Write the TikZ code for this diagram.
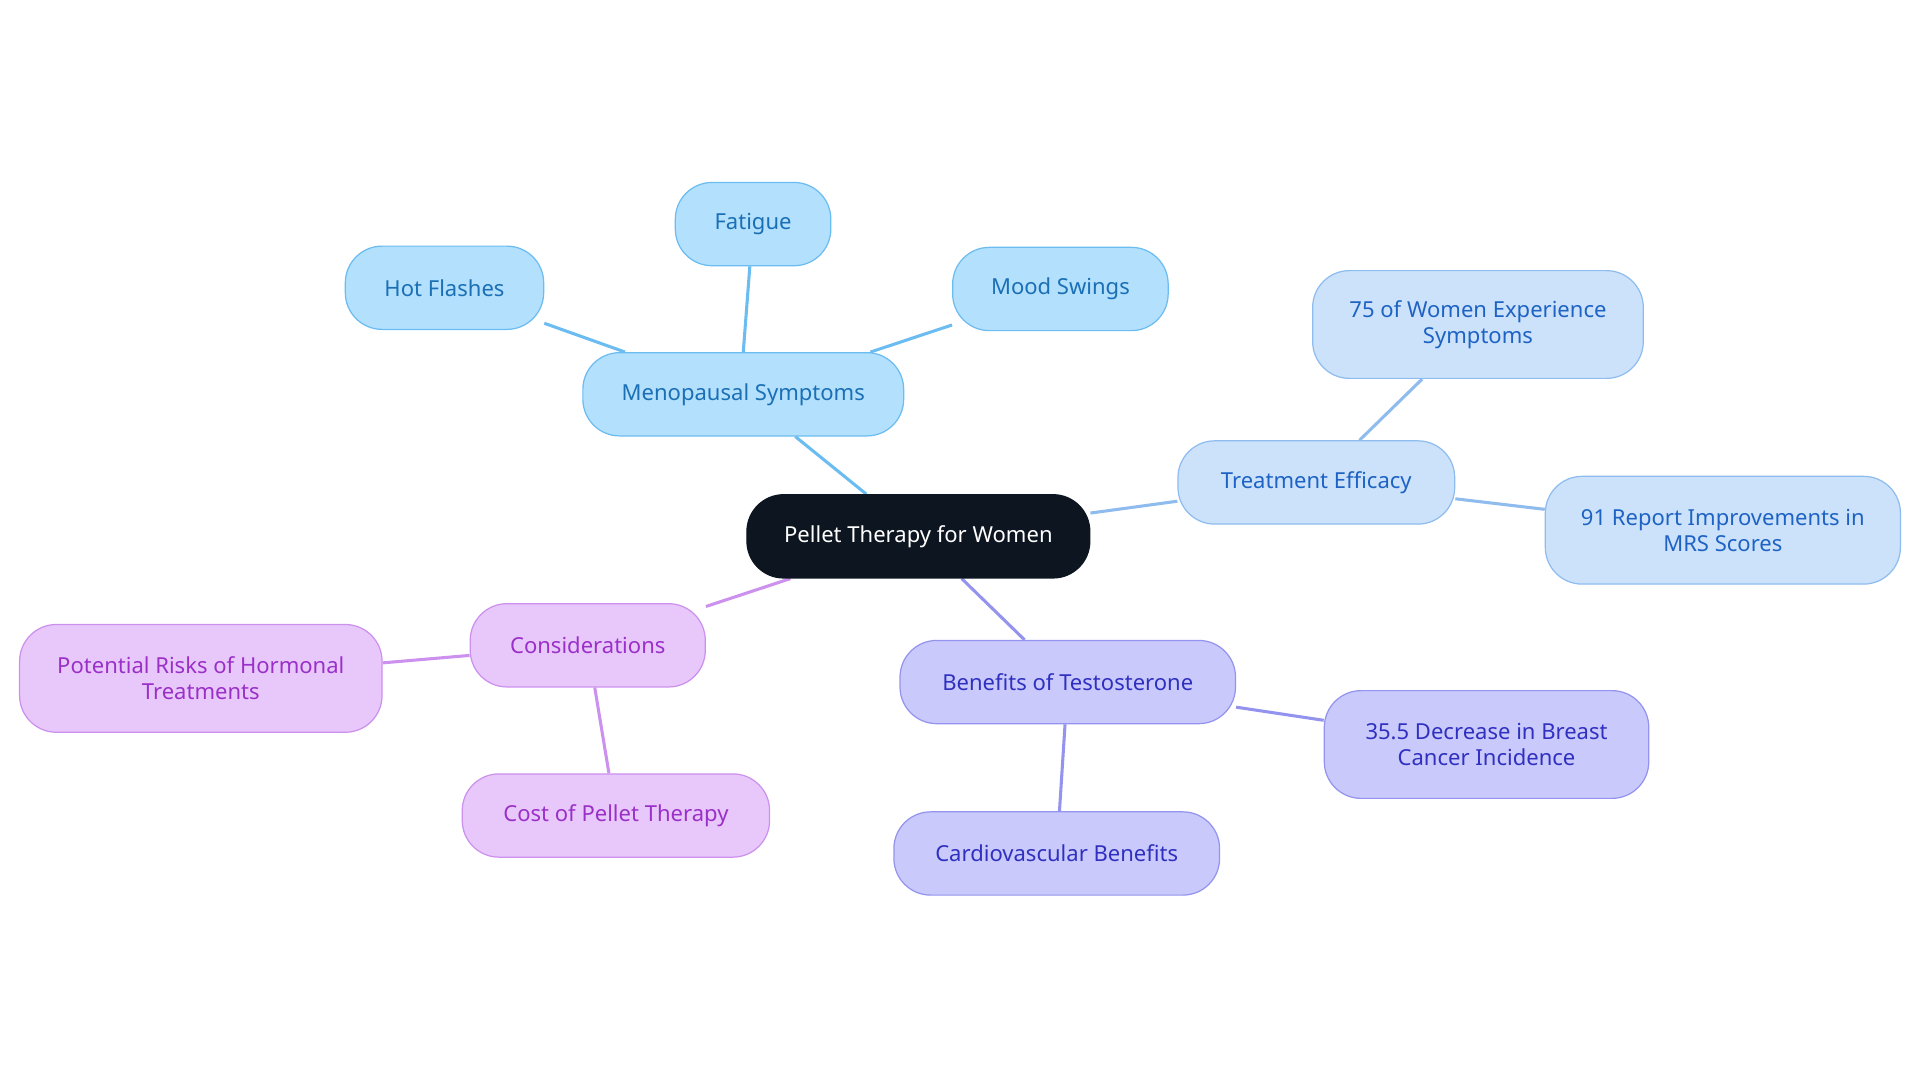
\documentclass[tikz,border=0pt]{standalone}
\usepackage{fontspec}
\setmainfont{Noto Sans}
\usetikzlibrary{positioning, backgrounds}

\definecolor{rootfill}{HTML}{0D1520}
\definecolor{menofill}{HTML}{B3E0FC}\definecolor{menoline}{HTML}{6BBCF0}\definecolor{menotext}{HTML}{1A6FB5}
\definecolor{efffill}{HTML}{CCE2FA}\definecolor{effline}{HTML}{8FBCEE}\definecolor{efftext}{HTML}{1E63C4}
\definecolor{benfill}{HTML}{C9C9FC}\definecolor{benline}{HTML}{9494EE}\definecolor{bentext}{HTML}{3030C0}
\definecolor{confill}{HTML}{E8C8FB}\definecolor{conline}{HTML}{CC90EE}\definecolor{context}{HTML}{9A30C8}

\begin{document}
\begin{tikzpicture}[
    x=1pt, y=-1pt,
    font=\fontsize{18}{21}\selectfont,
    box/.style={draw, line width=1pt, rounded corners=30pt, minimum height=68pt, align=center, inner sep=0pt},
    meno/.style={box, fill=menofill, draw=menoline, text=menotext},
    eff/.style={box, fill=efffill, draw=effline, text=efftext},
    ben/.style={box, fill=benfill, draw=benline, text=bentext},
    con/.style={box, fill=confill, draw=conline, text=context},
    link/.style={line width=2.5pt}
]
    \useasboundingbox (0,0) rectangle (1568,884);

    \node[box, fill=rootfill, draw=rootfill, text=white, minimum width=280pt] (root) at (750,438) {Pellet Therapy for Women};

    \node[meno, minimum width=262pt] (meno) at (607,322) {Menopausal Symptoms};
    \node[meno, minimum width=162pt] (hot) at (363,235) {Hot Flashes};
    \node[meno, minimum width=127pt] (fatigue) at (615,183) {Fatigue};
    \node[meno, minimum width=176pt] (mood) at (866,236) {Mood Swings};

    \node[eff, minimum width=226pt] (eff) at (1075,394) {Treatment Efficacy};
    \node[eff, minimum width=270pt, minimum height=88pt] (women) at (1207,265) {75 of Women Experience\\Symptoms};
    \node[eff, minimum width=290pt, minimum height=88pt] (mrs) at (1407,433) {91 Report Improvements in\\MRS Scores};

    \node[ben, minimum width=274pt] (ben) at (872,557) {Benefits of Testosterone};
    \node[ben, minimum width=265pt, minimum height=88pt] (breast) at (1214,608) {35.5 Decrease in Breast\\Cancer Incidence};
    \node[ben, minimum width=266pt] (cardio) at (863,697) {Cardiovascular Benefits};

    \node[con, minimum width=192pt] (con) at (480,527) {Considerations};
    \node[con, minimum width=296pt, minimum height=88pt] (risks) at (164,554) {Potential Risks of Hormonal\\Treatments};
    \node[con, minimum width=251pt] (cost) at (503,666) {Cost of Pellet Therapy};

    \begin{scope}[on background layer]
        \draw[link, menoline] (root) -- (meno) (meno) -- (hot) (meno.north) -- (fatigue) (meno) -- (mood);
        \draw[link, effline] (root) -- (eff) (eff) -- (women) (eff) -- (mrs);
        \draw[link, benline] (root) -- (ben) (ben) -- (breast) (ben) -- (cardio);
        \draw[link, conline] (root) -- (con) (con) -- (risks) (con) -- (cost);
    \end{scope}
\end{tikzpicture}
\end{document}
